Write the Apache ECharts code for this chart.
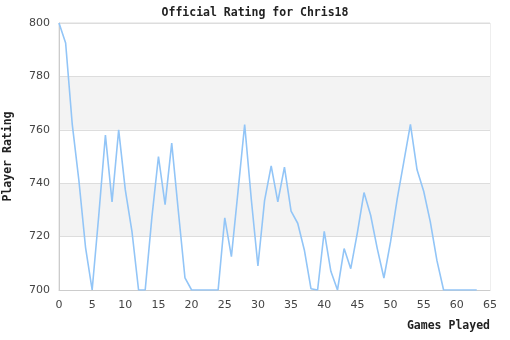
<!DOCTYPE html>
<html>
<head>
<meta charset="utf-8">
<script src="https://cdn.jsdelivr.net/npm/echarts@6/dist/echarts.min.js"></script>
<style>html,body{margin:0;padding:0;background:#fff}#c{width:510px;height:340px}</style>
</head>
<body>
<div id="c"></div>
<script>
const titleText = "Official Rating for Chris18";
const xName = "Games Played";
const yName = "Player Rating";
const games = [];
for (let i = 0; i <= 63; i++) games.push(i);
const ratings = [
  800, 792.5, 762, 741, 716, 700, 728, 758, 733, 760,
  737.5, 722, 700, 700, 727, 750, 732, 755, 729.5, 704.5,
  700, 700, 700, 700, 700, 727, 712.5, 737, 762, 734,
  709, 733.5, 746.5, 733, 746, 729.5, 725, 715, 700.5, 700,
  722, 707, 700, 715.5, 708, 721.5, 736.5, 728, 715.5, 704.5,
  718, 734, 748, 762, 745, 737, 725.5, 711, 700, 700,
  700, 700, 700, 700
];
const xTicks = {min: 0, max: 65, interval: 5};
const yTicks = {min: 700, max: 800, interval: 20};

const chart = echarts.init(document.getElementById('c'), null, {renderer: 'canvas'});
chart.setOption({
  animation: false,
  backgroundColor: '#ffffff',
  title: {
    text: titleText, left: 'center', top: 2,
    textStyle: {fontFamily: 'DejaVu Sans Mono', fontWeight: 'bold', fontSize: 11.5, color: '#222'}
  },
  grid: {left: 59, right: 20, top: 23, bottom: 50, containLabel: false, outerBoundsMode: 'none', show: true, borderColor: '#dddddd', borderWidth: 1, backgroundColor: 'transparent'},
  xAxis: {
    type: 'value', min: xTicks.min, max: xTicks.max, interval: xTicks.interval,
    name: xName, nameLocation: 'end', nameGap: 0,
    nameTextStyle: {fontFamily: 'DejaVu Sans Mono', fontWeight: 'bold', fontSize: 11.5, color: '#222', align: 'right', verticalAlign: 'top', padding: [30, 0, 0, 0]},
    axisLine: {show: true, lineStyle: {color: '#cccccc'}},
    axisTick: {show: false},
    splitLine: {show: false},
    axisLabel: {fontFamily: 'DejaVu Sans', fontSize: 11, color: '#444', margin: 10}
  },
  yAxis: {
    type: 'value', min: yTicks.min, max: yTicks.max, interval: yTicks.interval,
    name: yName, nameLocation: 'middle', nameGap: 44.5, nameRotate: 90,
    nameTextStyle: {fontFamily: 'DejaVu Sans Mono', fontWeight: 'bold', fontSize: 11.5, color: '#222'},
    axisLine: {show: true, lineStyle: {color: '#cccccc'}},
    axisTick: {show: false},
    splitLine: {show: true, lineStyle: {color: '#dddddd'}},
    splitArea: {show: true, areaStyle: {color: ['#ffffff', '#f3f3f3']}},
    axisLabel: {fontFamily: 'DejaVu Sans', fontSize: 11, color: '#444', margin: 9}
  },
  series: [{
    type: 'line',
    data: games.map((g, i) => [g, ratings[i]]),
    symbol: 'none',
    lineStyle: {color: '#92c5f7', width: 1.6},
    clip: true
  }]
});
</script>
</body>
</html>
